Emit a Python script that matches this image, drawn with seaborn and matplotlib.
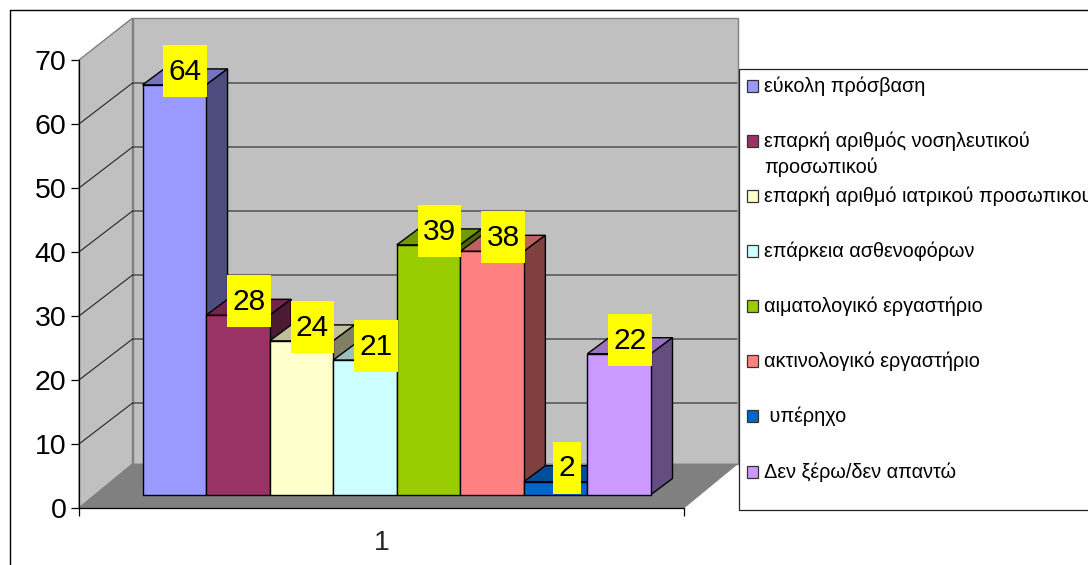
import matplotlib
matplotlib.use("Agg")
import matplotlib.pyplot as plt
import seaborn as sns
import pandas as pd
from matplotlib.patches import Polygon, Rectangle
from matplotlib.transforms import Affine2D

categories = [
    "εύκολη πρόσβαση",
    "επαρκή αριθμός νοσηλευτικού\nπροσωπικού",
    "επαρκή αριθμό ιατρικού προσωπικου",
    "επάρκεια ασθενοφόρων",
    "αιματολογικό εργαστήριο",
    "ακτινολογικό εργαστήριο",
    " υπέρηχο",
    "Δεν ξέρω/δεν απαντώ",
]
values = [64, 28, 24, 21, 39, 38, 2, 22]
colors = ["#9999FF", "#993366", "#FFFFCC", "#CCFFFF", "#99CC00", "#FF8080", "#0066CC", "#CC99FF"]
y_ticks = [0, 10, 20, 30, 40, 50, 60, 70]
x_label = "1"
legend_rows = [86, 141, 196, 251, 306, 361, 416, 472]

W, H = 1088, 565
FONT = "Liberation Sans"
sns.set_style("white")
plt.rcParams["font.family"] = [FONT, "DejaVu Sans"]

fig = plt.figure(figsize=(W / 100, H / 100), dpi=100, facecolor="white")
px = Affine2D().scale(1 / W, -1 / H).translate(0, 1) + fig.transFigure


def axes_rect(left, right, top, bottom):
    return [left / W, 1 - bottom / H, (right - left) / W, (bottom - top) / H]


def shade(color, factor):
    r, g, b = matplotlib.colors.to_rgb(color)
    return (r * factor, g * factor, b * factor)


# Outer chart frame, open on the right and at the bottom
fig.add_artist(plt.Line2D([9.5, 9.5], [10, H], transform=px, color="black", lw=1.0))
fig.add_artist(plt.Line2D([9.5, W], [10, 10], transform=px, color="black", lw=1.0))

# Axis plane holding the ticks and the 3D room
ax_room = fig.add_axes(axes_rect(79, 684, 60, 508))
ax_room.set_xlim(0, 1)
ax_room.set_ylim(0, 70)
ax_room.patch.set_visible(False)
for side in ("top", "right"):
    ax_room.spines[side].set_visible(False)
for side in ("left", "bottom"):
    ax_room.spines[side].set_visible(True)
    ax_room.spines[side].set_color("black")
    ax_room.spines[side].set_linewidth(0.9)
    ax_room.spines[side].set_zorder(6)
ax_room.set_yticks(y_ticks)
ax_room.tick_params(axis="y", length=6, width=0.9, color="black", labelsize=20.5, pad=3,
                    left=True, labelcolor="black")
ax_room.set_xticks([0, 1])
ax_room.set_xticklabels(["", ""])
ax_room.set_xticks([0.5], labels=[x_label], minor=True)
ax_room.tick_params(axis="x", which="major", length=6, width=0.9, color="black", bottom=True)
ax_room.tick_params(axis="x", which="minor", length=0, labelsize=20.5, pad=16)

ax_room.add_patch(Polygon([(132.5, 18), (737.5, 18), (737.5, 464), (132.5, 464)], transform=px,
                          fc="#C0C0C0", ec="#808080", lw=1.0, clip_on=False, zorder=1))
ax_room.add_patch(Polygon([(79, 60), (132.5, 18), (132.5, 464), (79, 508)], transform=px,
                          fc="#C0C0C0", ec="#808080", lw=1.0, clip_on=False, zorder=1))
ax_room.add_patch(Polygon([(79, 508), (132.5, 464), (737.5, 464), (684, 508)], transform=px,
                          fc="#808080", ec="#808080", lw=0.5, clip_on=False, zorder=2))
for tick in y_ticks[1:-1]:
    py = 508 - tick * 6.4
    ax_room.add_line(plt.Line2D([79, 132.5, 737], [py, py - 41, py - 41], transform=px,
                                color="#262626", lw=0.8, clip_on=False, zorder=3))

# Bars on their own plane, set forward from the back wall
ax_bars = fig.add_axes(axes_rect(142.5, 651, 494.5 - 448, 494.5))
ax_bars.set_zorder(ax_room.get_zorder() + 1)
frame = pd.DataFrame({"category": categories, "value": values})
sns.barplot(data=frame, x="category", y="value", hue="category", palette=colors, width=1.0,
            dodge=False, legend=False, saturation=1, ax=ax_bars, edgecolor="black", linewidth=1.0)
ax_bars.set_xlim(-0.5, 7.5)
ax_bars.set_ylim(0, 70)
ax_bars.axis("off")

DX, DY = 21.5, 16
bars = sorted(ax_bars.patches, key=lambda b: b.get_x())
for i, (bar, color) in enumerate(zip(bars, colors)):
    x0, x1, top = bar.get_x(), bar.get_x() + bar.get_width(), bar.get_height()
    bar.set_zorder(10 + 3 * i + 2)
    bar.set_clip_on(False)
    to_disp = ax_bars.transData
    a = to_disp.transform((x0, top))
    b = to_disp.transform((x1, top))
    c = to_disp.transform((x1, 0))
    top_face = [a, b, b + (DX, DY), a + (DX, DY)]
    side_face = [b, c, c + (DX, DY), b + (DX, DY)]
    ax_bars.add_patch(Polygon(top_face, transform=None, fc=shade(color, 0.75), ec="black",
                              lw=1.0, clip_on=False, zorder=10 + 3 * i))
    ax_bars.add_patch(Polygon(side_face, transform=None, fc=shade(color, 0.5), ec="black",
                              lw=1.0, clip_on=False, zorder=10 + 3 * i + 1))

# Yellow value tags above each bar
inverse = px.inverted()
for i, (bar, value) in enumerate(zip(bars, values)):
    label = str(value)
    cx, cy = ax_bars.transData.transform((bar.get_x() + bar.get_width() / 2, bar.get_height()))
    cx, cy = inverse.transform((cx + 11, cy + 14.7))
    width = 12 + 15.8 * len(label)
    ax_bars.add_patch(Rectangle((cx - width / 2, cy - 25.5), width, 52, transform=px, fc="#FFFF00",
                                ec="none", clip_on=False, zorder=60))
    ax_bars.text(cx, cy + 1.5, label, transform=px, ha="center", va="center", fontsize=21.5,
                 color="black", clip_on=False, zorder=61)

# Legend panel running off the right edge
ax_bars.add_patch(Rectangle((738.5, 69), 400, 440.5, transform=px, fc="white", ec="#222222",
                            lw=0.9, clip_on=False, zorder=70))
for name, color, row in zip(categories, colors, legend_rows):
    ax_bars.add_patch(Rectangle((746.5, row - 6), 11.5, 11.5, transform=px, fc=color, ec="#333333",
                                lw=0.9, clip_on=False, zorder=71))
    ax_bars.text(764, row, name.split("\n")[0], transform=px, ha="left", va="center",
                 fontsize=14.35, color="black", clip_on=False, zorder=71)
    if "\n" in name:
        ax_bars.text(764, row + 26, name.split("\n")[1], transform=px, ha="left", va="center",
                     fontsize=14.35, color="black", clip_on=False, zorder=71)

fig.savefig("out.png", dpi=100, facecolor="white")
